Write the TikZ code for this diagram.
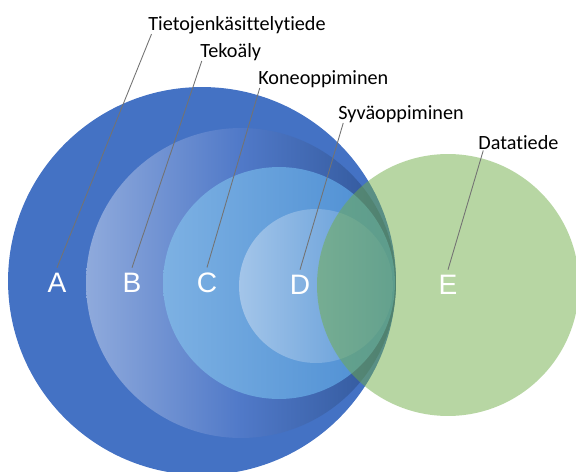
\documentclass[tikz,border=0pt]{standalone}
\usepackage{fontspec}
\setmainfont{Carlito}[Ligatures=NoCommon]
\newfontfamily\letterfont{Liberation Sans}
\usetikzlibrary{positioning}
\definecolor{outerblue}{HTML}{4472C4}
\definecolor{aileft}{HTML}{8FAADC}
\definecolor{aimid}{HTML}{5079C8}
\definecolor{airight}{HTML}{2F5597}
\definecolor{mlleft}{HTML}{7DB1E3}
\definecolor{mlright}{HTML}{4A8CD2}
\definecolor{dlleft}{HTML}{A3C5E9}
\definecolor{dlright}{HTML}{5896D6}
\definecolor{datagreen}{HTML}{70AD47}
\definecolor{leadergray}{RGB}{115,115,115}
\tikzset{
  ring/.style={circle, draw=none, inner sep=0},
  letter/.style={text=white, font=\letterfont\fontsize{16}{16}\selectfont, inner sep=3pt},
  term/.style={font=\fontsize{11.5}{13}\selectfont, inner sep=0, anchor=west},
  leader/.style={draw=leadergray, line width=0.5pt}
}

\begin{document}
\begin{tikzpicture}[x=0.02cm, y=-0.02cm]
    \useasboundingbox (0,0) rectangle (576,471);

    % Nested circles
    \node[ring, fill=outerblue, minimum size=7.76cm] (ringA) at (202,281) {};
    \node[ring, left color=aileft, right color=airight, middle color=aimid, minimum size=6.2cm] (ringB) at (241,283) {};
    \node[ring, left color=mlleft, right color=mlright, minimum size=4.64cm] (ringC) at (279,283) {};
    \node[ring, left color=dlleft, right color=dlright, minimum size=3.08cm] (ringD) at (316,286) {};

    % Data science circle
    \node[ring, fill=datagreen, fill opacity=0.5, minimum size=5.24cm] (ringE) at (448,285) {};

    % Letters
    \node[letter] (A) at (57,283) {A};
    \node[letter] (B) at (132,283) {B};
    \node[letter] (C) at (207,283) {C};
    \node[letter] (D) at (300,285) {D};
    \node[letter] (E) at (448,285) {E};

    % Terms
    \node[term] (cs) at (148,25) {Tietojenkäsittelytiede};
    \node[term] (ai) at (200,52) {Tekoäly};
    \node[term] (ml) at (258,79) {Koneoppiminen};
    \node[term] (dl) at (338,114) {Syväoppiminen};
    \node[term] (ds) at (478,143) {Datatiede};

    % Leader lines
    \draw[leader] ([xshift=2pt]cs.south west) -- (A.north);
    \draw[leader] ([xshift=1pt]ai.south west) -- (B.north);
    \draw[leader] ([xshift=1pt]ml.south west) -- (C.north);
    \draw[leader] ([xshift=3pt]dl.south west) -- (D.north);
    \draw[leader] ([xshift=3pt]ds.south west) -- (E.north);
\end{tikzpicture}
\end{document}
